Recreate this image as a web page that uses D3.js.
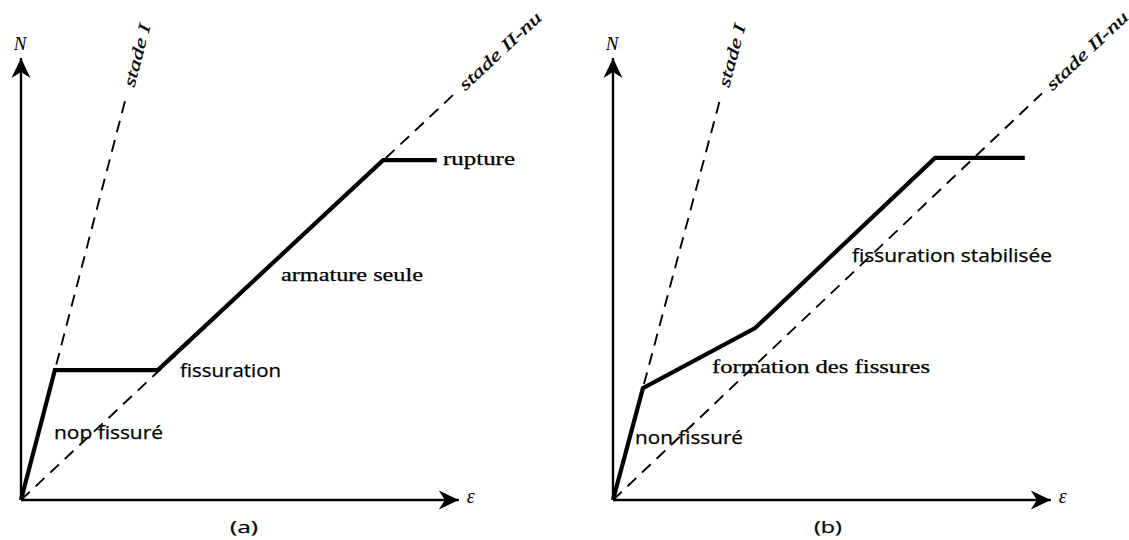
<!DOCTYPE html>
<html>
<head>
<meta charset="utf-8">
<script src="https://cdn.jsdelivr.net/npm/d3@7/dist/d3.min.js"></script>
<style>
  html, body { margin: 0; padding: 0; background: #fff; }
  svg { display: block; }
</style>
</head>
<body>
<svg id="chart" width="1129" height="540"></svg>
<script>
// Tension-member behaviour: axial force N against strain ε (normalised units, 0–10)

// Panel (a): idealised response
const curveA_eps = [0, 0.77, 3.11, 8.23, 9.45];
const curveA_N   = [0, 2.94, 2.94, 7.69, 7.69];
const stadeIA_eps  = [0, 2.37];
const stadeIA_N    = [0, 9.05];
const stadeIIA_eps = [0, 9.86];
const stadeIIA_N   = [0, 9.20];

// Panel (b): response with tension stiffening
const curveB_eps = [0, 0.68, 3.23, 7.32, 9.36];
const curveB_N   = [0, 2.53, 3.89, 7.74, 7.74];
const stadeIB_eps  = [0, 2.43];
const stadeIB_N    = [0, 9.05];
const stadeIIB_eps = [0, 9.75];
const stadeIIB_N   = [0, 9.20];

// Annotation text
const panelTitles   = ["(a)", "(b)"];
const regionLabelsA = ["nop fissuré", "fissuration", "armature seule", "rupture"];
const regionLabelsB = ["non fissuré", "formation des fissures", "fissuration stabilisée"];
const stadeLabels   = ["stade I", "stade II-nu"];
const axisLabels    = ["N", "ε"];
const axisMax = [9.95, 10];  // [ε, N] extent of the arrows

const svg = d3.select("#chart");
const sans  = "'Open Sans', 'DejaVu Sans', sans-serif";
const serif = "'Liberation Serif', 'DejaVu Serif', serif";

// Arrowhead
svg.append("defs").append("marker")
  .attr("id", "arrow")
  .attr("markerUnits", "userSpaceOnUse")
  .attr("viewBox", "-22 -11 24 22")
  .attr("refX", 0).attr("refY", 0)
  .attr("markerWidth", 24).attr("markerHeight", 22)
  .attr("orient", "auto")
  .append("path")
  .attr("d", "M0,0 L-20,-9.5 L-14,0 L-20,9.5 Z")
  .attr("fill", "#000");

function pairs(xs, ys) { return xs.map((v, i) => [v, ys[i]]); }

function drawPanel(cfg) {
  const x = d3.scaleLinear().domain([0, 10]).range([cfg.x0, cfg.x0 + 440]);
  const y = d3.scaleLinear().domain([0, 10]).range([500, 58]);
  const line = d3.line().x(d => x(d[0])).y(d => y(d[1]));
  const g = svg.append("g");

  // axes
  g.append("path").attr("d", line([[0, 0], [axisMax[0], 0]]))
    .attr("stroke", "#000").attr("stroke-width", 2.4).attr("fill", "none")
    .attr("marker-end", "url(#arrow)");
  g.append("path").attr("d", line([[0, 0], [0, axisMax[1]]]))
    .attr("stroke", "#000").attr("stroke-width", 2.4).attr("fill", "none")
    .attr("marker-end", "url(#arrow)");

  // reference stiffness lines
  [cfg.stadeI, cfg.stadeII].forEach(s => {
    g.append("path").attr("d", line(s))
      .attr("stroke", "#000").attr("stroke-width", 1.9).attr("fill", "none")
      .attr("stroke-dasharray", "12,8");
  });

  // behaviour curve
  g.append("path").attr("d", line(cfg.curve))
    .attr("stroke", "#000").attr("stroke-width", 4.2).attr("fill", "none")
    .attr("stroke-linejoin", "miter");

  // axis labels
  g.append("text").text(axisLabels[0])
    .attr("x", x(0) - 1).attr("y", 50)
    .attr("text-anchor", "middle")
    .attr("font-family", serif).attr("font-style", "italic")
    .attr("font-size", 19).attr("fill", "#000");
  g.append("text").text(axisLabels[1])
    .attr("x", x(axisMax[0]) + 8).attr("y", 503)
    .attr("font-family", serif).attr("font-style", "italic")
    .attr("font-size", 20).attr("fill", "#000");

  // stade labels, written along the continuation of each dashed line
  [[cfg.stadeI, stadeLabels[0], 64, 14], [cfg.stadeII, stadeLabels[1], 106, 9]].forEach(([s, label, len, gap]) => {
    const p0 = [x(s[0][0]), y(s[0][1])];
    const p1 = [x(s[1][0]), y(s[1][1])];
    const ang = Math.atan2(p1[1] - p0[1], p1[0] - p0[0]);
    const tx = p1[0] + gap * Math.cos(ang);
    const ty = p1[1] + gap * Math.sin(ang);
    g.append("text").text(label)
      .attr("transform", `translate(${tx},${ty}) rotate(${ang * 180 / Math.PI})`)
      .attr("dy", "0.33em")
      .attr("font-family", serif).attr("font-style", "italic")
      .attr("font-size", 17).attr("fill", "#000")
      .attr("stroke", "#000").attr("stroke-width", 0.3)
      .attr("textLength", len).attr("lengthAdjust", "spacingAndGlyphs");
  });

  // region labels
  cfg.labels.forEach(l => {
    g.append("text").text(l.text)
      .attr("x", l.x).attr("y", l.y)
      .attr("font-family", l.font).attr("font-size", 18).attr("fill", "#000")
      .attr("stroke", "#000").attr("stroke-width", 0.25)
      .attr("textLength", l.len).attr("lengthAdjust", "spacingAndGlyphs");
  });

  // panel title
  g.append("text").text(cfg.title)
    .attr("x", cfg.titleX).attr("y", 533)
    .attr("font-family", sans).attr("font-size", 17).attr("fill", "#000")
    .attr("stroke", "#000").attr("stroke-width", 0.25)
    .attr("textLength", 28).attr("lengthAdjust", "spacingAndGlyphs");
}

drawPanel({
  x0: 21,
  curve: pairs(curveA_eps, curveA_N),
  stadeI: pairs(stadeIA_eps, stadeIA_N),
  stadeII: pairs(stadeIIA_eps, stadeIIA_N),
  title: panelTitles[0], titleX: 230,
  labels: [
    { text: regionLabelsA[0], x: 54,  y: 439, len: 109, font: sans },
    { text: regionLabelsA[1], x: 180, y: 377, len: 101, font: sans },
    { text: regionLabelsA[2], x: 281, y: 281, len: 142, font: serif },
    { text: regionLabelsA[3], x: 443, y: 165, len: 72,  font: serif }
  ]
});

drawPanel({
  x0: 613,
  curve: pairs(curveB_eps, curveB_N),
  stadeI: pairs(stadeIB_eps, stadeIB_N),
  stadeII: pairs(stadeIIB_eps, stadeIIB_N),
  title: panelTitles[1], titleX: 814,
  labels: [
    { text: regionLabelsB[0], x: 635, y: 444, len: 108, font: sans },
    { text: regionLabelsB[1], x: 712, y: 373, len: 218, font: serif },
    { text: regionLabelsB[2], x: 852, y: 262, len: 200, font: sans }
  ]
});
</script>
</body>
</html>
